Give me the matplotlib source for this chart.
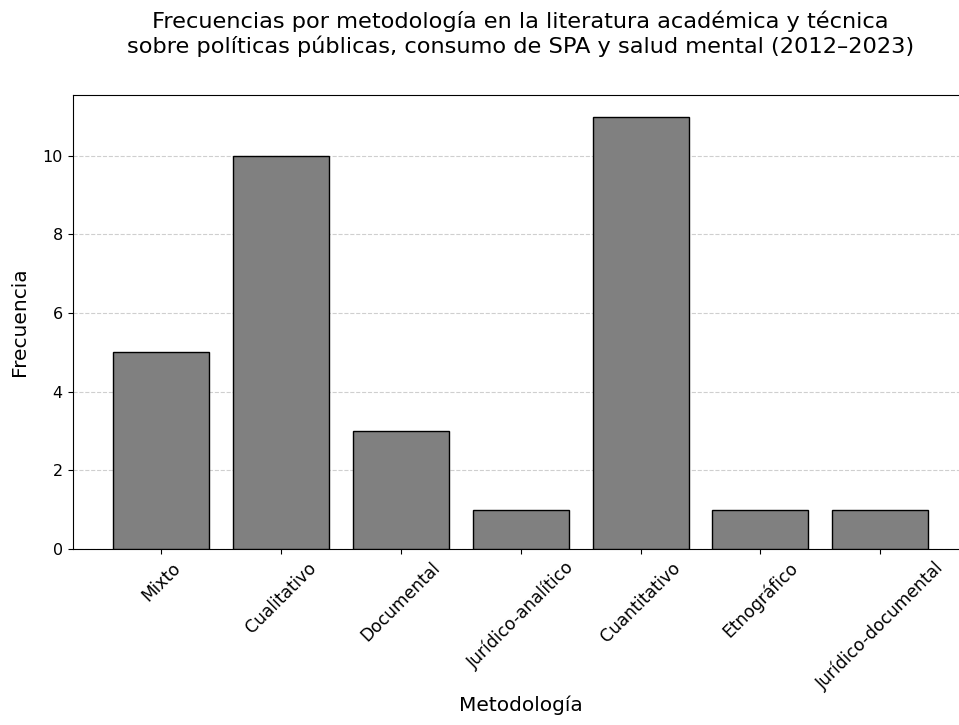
import matplotlib
matplotlib.use("Agg")
import matplotlib.pyplot as plt

categorias = ["Mixto", "Cualitativo", "Documental", "Jurídico-analítico",
              "Cuantitativo", "Etnográfico", "Jurídico-documental"]
frecuencias = [5, 10, 3, 1, 11, 1, 1]

plt.rcParams["font.family"] = ["DejaVu Sans"]

fig, ax = plt.subplots(figsize=(9.59, 7.25), dpi=100)
ax.bar(categorias, frecuencias, color="#808080", edgecolor="black", width=0.8, zorder=3)
ax.grid(axis="y", linestyle="--", alpha=0.6, zorder=0)
ax.set_title("Frecuencias por metodología en la literatura académica y técnica\n"
             "sobre políticas públicas, consumo de SPA y salud mental (2012–2023)",
             fontsize=16.2, pad=30)
ax.set_xlabel("Metodología", fontsize=14.5, labelpad=1.5)
ax.set_ylabel("Frecuencia", fontsize=14.5, labelpad=10)
ax.tick_params(axis="x", labelsize=12.3)
ax.tick_params(axis="y", labelsize=11.5)
plt.setp(ax.get_xticklabels(), rotation=45, ha="center")
fig.subplots_adjust(left=0.0756, right=1.0104, top=0.869, bottom=0.243)
fig.savefig("out.png", dpi=100)
